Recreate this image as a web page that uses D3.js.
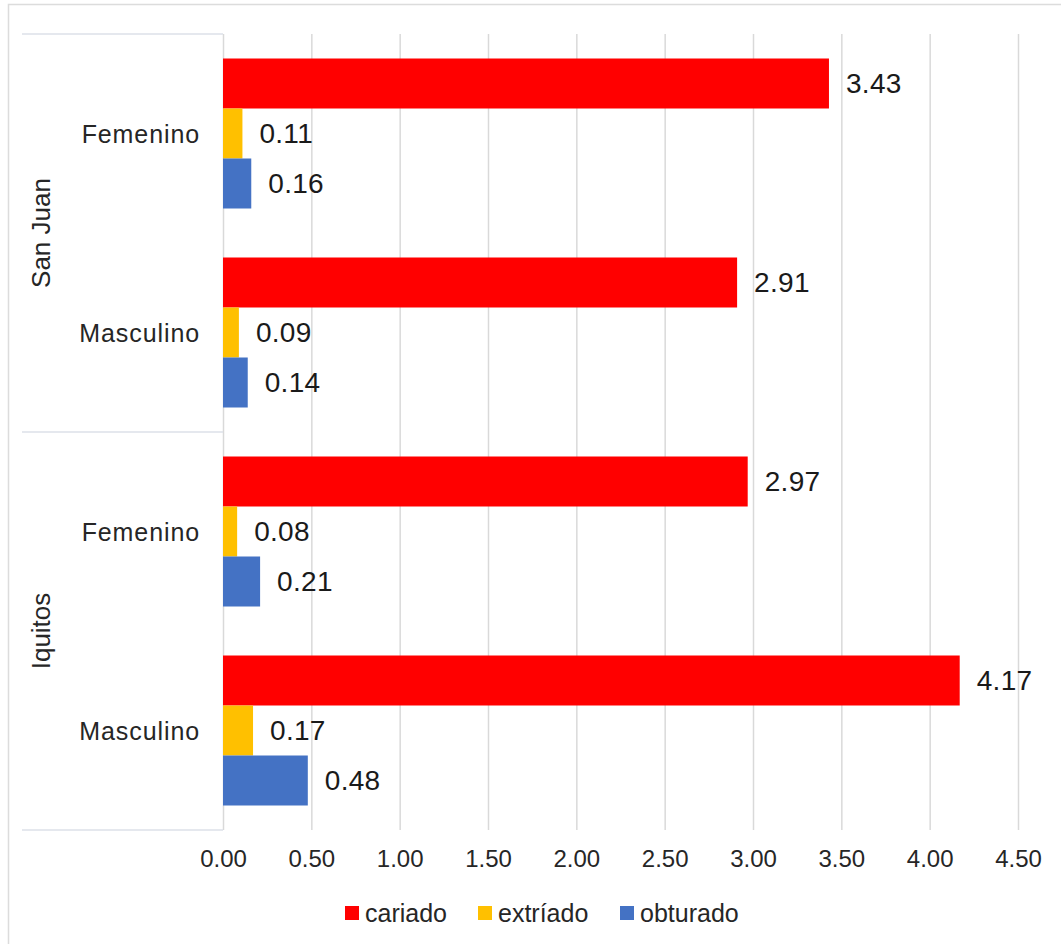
<!DOCTYPE html>
<html>
<head>
<meta charset="utf-8">
<script src="https://cdn.jsdelivr.net/npm/d3@7"></script>
<style>
  html, body { margin: 0; padding: 0; background: #fff; }
  svg { display: block; font-family: "Liberation Sans", Arial, sans-serif; }
</style>
</head>
<body>
<svg id="chart" width="1061" height="944"></svg>
<script>
// Regions and sexes, one row per bar group (top to bottom)
const regions = ["San Juan", "San Juan", "Iquitos", "Iquitos"];
const sexes = ["Femenino", "Masculino", "Femenino", "Masculino"];

// Mean teeth per child by condition
const seriesNames = ["cariado", "extríado", "obturado"];
const cariado = [3.43, 2.91, 2.97, 4.17];
const extriado = [0.11, 0.09, 0.08, 0.17];
const obturado = [0.16, 0.14, 0.21, 0.48];
const seriesColors = ["#ff0000", "#ffc000", "#4472c4"];

// Axis ticks
const xTicks = [0, 0.5, 1, 1.5, 2, 2.5, 3, 3.5, 4, 4.5];

const seriesValues = [cariado, extriado, obturado];
const rows = sexes.map((s, i) => ({
  key: i, region: regions[i], sex: s,
  values: seriesNames.map((n, j) => ({ name: n, value: seriesValues[j][i], color: seriesColors[j] }))
}));

const svg = d3.select("#chart");
const W = 1061, H = 944;
const plot = { left: 223, right: 1018, top: 34, bottom: 830 };
const labelColor = "#262626";
const gridColor = "#d9d9d9";

// Outer frame
svg.append("rect")
  .attr("x", 8.5).attr("y", 4.5)
  .attr("width", W).attr("height", H)
  .attr("fill", "#fff").attr("stroke", "#dcdcdc").attr("stroke-width", 1.5);

const x = d3.scaleLinear().domain([0, 4.5]).range([plot.left, plot.right]);
const y = d3.scaleBand().domain(rows.map(r => r.key)).range([plot.top, plot.bottom]);
const yInner = d3.scaleBand().domain(seriesNames)
  .range([24.5, y.bandwidth() - 24.5]);

// Vertical gridlines and tick labels
const xAxis = d3.axisBottom(x)
  .tickValues(xTicks)
  .tickFormat(d3.format(".2f"))
  .tickSize(-(plot.bottom - plot.top))
  .tickPadding(20);

const gx = svg.append("g")
  .attr("transform", `translate(0,${plot.bottom})`)
  .call(xAxis);
gx.select(".domain").remove();
gx.selectAll(".tick line").attr("stroke", gridColor).attr("stroke-width", 1.5);
gx.selectAll(".tick text")
  .attr("fill", labelColor)
  .style("font-size", "24px")
  .style("font-family", "'Liberation Sans', Arial, sans-serif");

// Category axis frame lines at region boundaries
const boundaries = [plot.top, y(2), plot.bottom];
svg.append("g").selectAll("line")
  .data(boundaries)
  .join("line")
  .attr("x1", 22).attr("x2", plot.left)
  .attr("y1", d => d).attr("y2", d => d)
  .attr("stroke", "#dde1e8").attr("stroke-width", 1.5);

// Bars
const groups = svg.append("g").selectAll("g")
  .data(rows)
  .join("g")
  .attr("transform", d => `translate(0,${y(d.key)})`);

groups.selectAll("rect")
  .data(d => d.values)
  .join("rect")
  .attr("x", x(0))
  .attr("y", d => yInner(d.name))
  .attr("width", d => x(d.value) - x(0))
  .attr("height", yInner.bandwidth())
  .attr("fill", d => d.color);

// Value labels
groups.selectAll("text.value")
  .data(d => d.values)
  .join("text")
  .attr("class", "value")
  .attr("x", d => x(d.value) + 17)
  .attr("y", d => yInner(d.name) + yInner.bandwidth() / 2)
  .attr("dominant-baseline", "central")
  .attr("fill", "#1a1a1a")
  .style("font-size", "28px")
  .style("letter-spacing", "0.3px")
  .text(d => d.value.toFixed(2));

// Sex labels
svg.append("g").selectAll("text")
  .data(rows)
  .join("text")
  .attr("x", 200)
  .attr("y", d => y(d.key) + y.bandwidth() / 2)
  .attr("text-anchor", "end")
  .attr("dominant-baseline", "central")
  .attr("fill", labelColor)
  .style("font-size", "25px")
  .style("letter-spacing", "0.9px")
  .text(d => d.sex);

// Region labels (rotated)
const regionNames = ["San Juan", "Iquitos"];
svg.append("g").selectAll("text")
  .data(regionNames)
  .join("text")
  .attr("transform", (d, i) => {
    const cy = y(i * 2) + y.bandwidth();
    return `translate(41,${cy}) rotate(-90)`;
  })
  .attr("text-anchor", "middle")
  .attr("dominant-baseline", "central")
  .attr("fill", labelColor)
  .style("font-size", "26px")
  .text(d => d);

// Legend
const legendX = [345, 478, 620];
const legend = svg.append("g").selectAll("g")
  .data(seriesNames)
  .join("g")
  .attr("transform", (d, i) => `translate(${legendX[i]},913)`);
legend.append("rect")
  .attr("x", 0).attr("y", -7)
  .attr("width", 14).attr("height", 14)
  .attr("fill", (d, i) => seriesColors[i]);
legend.append("text")
  .attr("x", 20)
  .attr("y", 0)
  .attr("dominant-baseline", "central")
  .attr("fill", labelColor)
  .style("font-size", "25px")
  .text(d => d);
</script>
</body>
</html>
